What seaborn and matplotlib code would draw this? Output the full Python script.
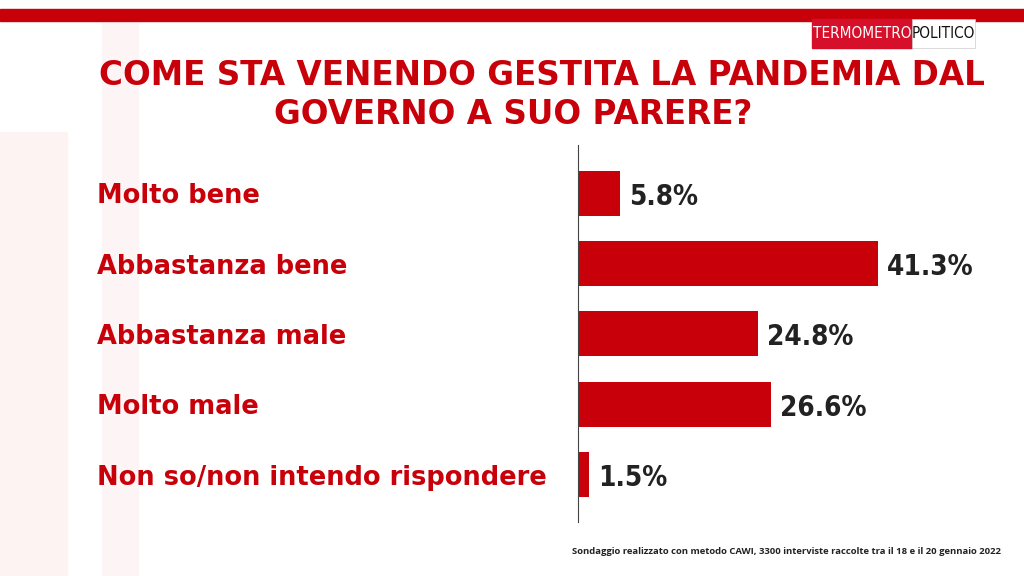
import matplotlib
matplotlib.use("Agg")
import matplotlib.pyplot as plt
import seaborn as sns
import pandas as pd
from matplotlib.patches import Rectangle

categories = ["Molto bene", "Abbastanza bene", "Abbastanza male", "Molto male", "Non so/non intendo rispondere"]
values = [5.8, 41.3, 24.8, 26.6, 1.5]
labels = ["5.8%", "41.3%", "24.8%", "26.6%", "1.5%"]

RED = "#c8000a"
fig = plt.figure(figsize=(10.24, 5.76), dpi=100)
fig.patch.set_facecolor("white")
fig.patches.append(Rectangle((0.0, 0.0), 0.065, 0.77, transform=fig.transFigure, color="#fdf3f3", zorder=0))
fig.patches.append(Rectangle((0.10, 0.0), 0.035, 0.96, transform=fig.transFigure, color="#fdf5f5", zorder=0))
fig.patches.append(Rectangle((0, 0.963), 1, 0.022, transform=fig.transFigure, color=RED, zorder=1))

ax = fig.add_axes([0.5645, 0.094, 0.355, 0.654])
ax.set_facecolor("none")
df = pd.DataFrame({"cat": categories, "val": values})
sns.barplot(data=df, x="val", y="cat", color=RED, width=0.64, saturation=1, ax=ax)
ax.set_xlim(0, 50)
ax.set_ylim(4.67, -0.68)
for s in ["top", "right", "bottom"]:
    ax.spines[s].set_visible(False)
ax.spines["left"].set_color("#444444")
ax.spines["left"].set_linewidth(0.8)
ax.set_xticks([])
ax.set_xlabel("")
ax.set_ylabel("")
ax.tick_params(axis="y", length=0, pad=0)
ax.set_yticks(range(len(categories)))
ax.set_yticklabels([])
for i, (c, v, l) in enumerate(zip(categories, values, labels)):
    ax.text(v + 1.2, i + 0.05, l, va="center", ha="left", fontsize=20, fontweight="bold",
            color="#222222", fontfamily="DejaVu Sans", fontstretch="condensed")
    fig.text(0.095, 1 - (196 + 70.5 * i) / 576, c, va="center", ha="left", fontsize=18.5,
             fontweight="bold", color=RED, fontfamily="DejaVu Sans")

fig.text(0.529, 0.869, "COME STA VENENDO GESTITA LA PANDEMIA DAL", ha="center", va="center",
         fontsize=23.5, fontweight="bold", color=RED, fontfamily="DejaVu Sans")
fig.text(0.501, 0.801, "GOVERNO A SUO PARERE?", ha="center", va="center",
         fontsize=23.5, fontweight="bold", color=RED, fontfamily="DejaVu Sans")

fig.patches.append(Rectangle((0.793, 0.917), 0.098, 0.05, transform=fig.transFigure, color="#d6102a", zorder=2))
fig.patches.append(Rectangle((0.891, 0.917), 0.061, 0.05, transform=fig.transFigure, color="white", ec="#cccccc", lw=0.5, zorder=2))
fig.text(0.842, 0.941, "TERMOMETRO", ha="center", va="center", fontsize=11, color="white",
         fontfamily="DejaVu Sans", fontstretch="condensed", zorder=3)
fig.text(0.9215, 0.941, "POLITICO", ha="center", va="center", fontsize=11, color="#111111",
         fontfamily="DejaVu Sans", fontstretch="condensed", zorder=3)

fig.text(0.977, 0.043, "Sondaggio realizzato con metodo CAWI, 3300 interviste raccolte tra il 18 e il 20 gennaio 2022",
         ha="right", va="center", fontsize=6.8, fontweight="bold", color="#222222", fontfamily="Open Sans")

fig.savefig("out.png", dpi=100)
